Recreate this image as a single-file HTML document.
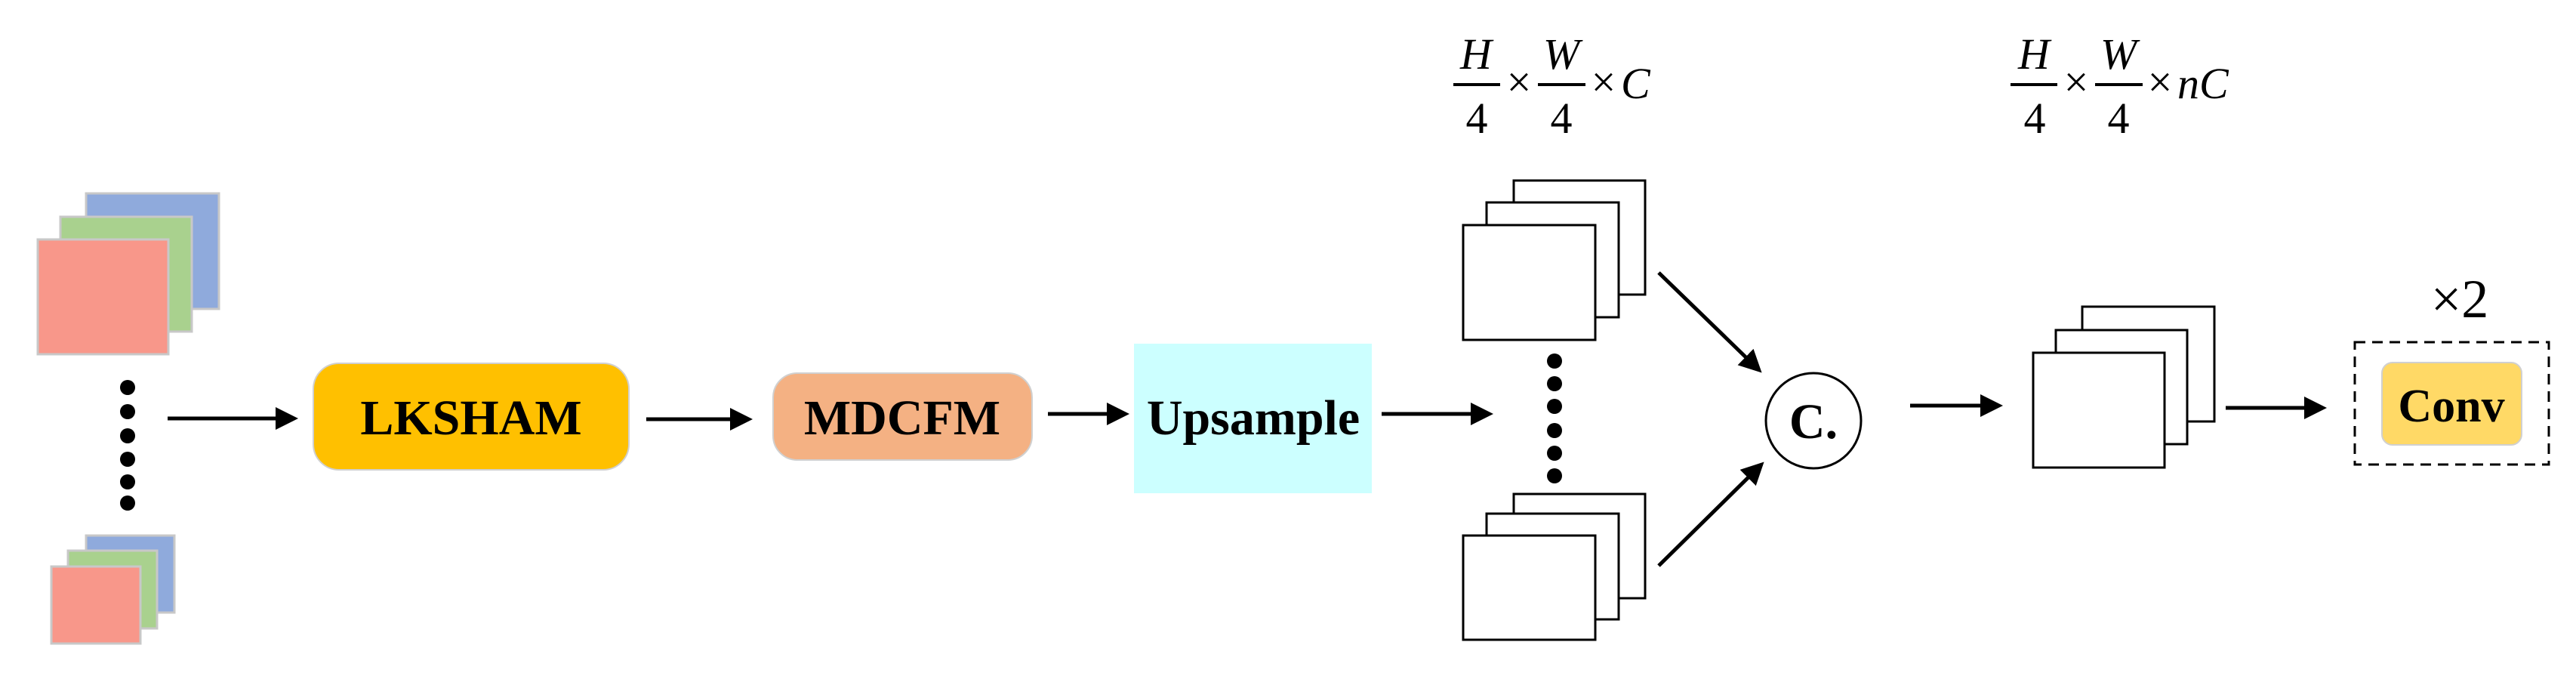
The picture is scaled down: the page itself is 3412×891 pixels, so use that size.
<!DOCTYPE html>
<html><head><meta charset="utf-8"><style>html,body{margin:0;padding:0;background:#fff}svg{display:block}</style></head>
<body>
<svg width="3412" height="891" viewBox="0 0 3412 891" xmlns="http://www.w3.org/2000/svg" font-family="Liberation Serif, serif">
<defs>
<marker id="ah" markerWidth="6" markerHeight="6" refX="5" refY="3" orient="auto" markerUnits="strokeWidth">
<path d="M0,0 L6,3 L0,6 z" fill="#000"/></marker>
</defs>
<!-- top color stack -->
<rect x="114" y="256" width="176" height="153" fill="#8FAADC" stroke="#c8c8c8" stroke-width="3"/>
<rect x="80" y="287" width="174" height="152" fill="#A9D18E" stroke="#c8c8c8" stroke-width="3"/>
<rect x="50" y="317" width="173" height="152" fill="#F8978A" stroke="#c8c8c8" stroke-width="3"/>
<!-- dots -->
<g fill="#000">
<ellipse cx="169" cy="513" rx="10" ry="10"/><ellipse cx="169" cy="545" rx="10" ry="10"/><ellipse cx="169" cy="577" rx="10" ry="10"/>
<ellipse cx="169" cy="608" rx="10" ry="10"/><ellipse cx="169" cy="638" rx="10" ry="10"/><ellipse cx="169" cy="666" rx="10" ry="10"/>
</g>
<!-- bottom color stack -->
<rect x="114" y="709" width="117" height="102" fill="#8FAADC" stroke="#c8c8c8" stroke-width="3"/>
<rect x="90" y="729" width="118" height="103" fill="#A9D18E" stroke="#c8c8c8" stroke-width="3"/>
<rect x="68" y="750" width="118" height="102" fill="#F8978A" stroke="#c8c8c8" stroke-width="3"/>
<!-- arrows -->
<g stroke="#000" stroke-width="5" fill="none" marker-end="url(#ah)">
<line x1="222" y1="554" x2="390" y2="554"/>
<line x1="856" y1="555" x2="992" y2="555"/>
<line x1="1388" y1="548" x2="1491" y2="548"/>
<line x1="1830" y1="548" x2="1973" y2="548"/>
<line x1="2197" y1="361" x2="2330" y2="490"/>
<line x1="2197" y1="749" x2="2333" y2="615"/>
<line x1="2530" y1="537" x2="2648" y2="537"/>
<line x1="2948" y1="540" x2="3077" y2="540"/>
</g>
<!-- LKSHAM -->
<rect x="415" y="481" width="418" height="141" rx="34" fill="#FFC000" stroke="#d0d0d0" stroke-width="2"/>
<text x="624" y="575" text-anchor="middle" font-size="66" font-weight="bold">LKSHAM</text>
<!-- MDCFM -->
<rect x="1024" y="494" width="343" height="115" rx="32" fill="#F4B183" stroke="#d0d0d0" stroke-width="2"/>
<text x="1195" y="575" text-anchor="middle" font-size="66" font-weight="bold">MDCFM</text>
<!-- Upsample -->
<rect x="1502" y="455" width="315" height="198" fill="#CCFFFF"/>
<text x="1660" y="575" text-anchor="middle" font-size="66" font-weight="bold">Upsample</text>
<!-- white stacks -->
<g fill="#fff" stroke="#000" stroke-width="3">
<rect x="2005" y="239" width="174" height="151"/><rect x="1969" y="268" width="175" height="152"/><rect x="1938" y="298" width="175" height="152"/>
<rect x="2005" y="654" width="174" height="138"/><rect x="1969" y="680" width="175" height="140"/><rect x="1938" y="709" width="175" height="138"/>
<rect x="2758" y="406" width="175" height="152"/><rect x="2723" y="437" width="174" height="151"/><rect x="2693" y="467" width="174" height="152"/>
</g>
<g fill="#000">
<circle cx="2059" cy="478" r="10"/><circle cx="2059" cy="508" r="10"/><circle cx="2059" cy="538" r="10"/>
<circle cx="2059" cy="570" r="10"/><circle cx="2059" cy="600" r="10"/><circle cx="2059" cy="630" r="10"/>
</g>
<!-- concat circle -->
<circle cx="2402" cy="557" r="63" fill="#fff" stroke="#000" stroke-width="3"/>
<text x="2402" y="580" text-anchor="middle" font-size="66" font-weight="bold">C.</text>
<!-- conv -->
<rect x="3119" y="453" width="257" height="162" fill="none" stroke="#000" stroke-width="3" stroke-dasharray="14,9"/>
<rect x="3155" y="480" width="185" height="109" rx="14" fill="#FFD966" stroke="#d0d0d0" stroke-width="2"/>
<text x="3247" y="558" text-anchor="middle" font-size="62" font-weight="bold">Conv</text>
<text x="3258" y="420" text-anchor="middle" font-size="72">×2</text>
<!-- formulas -->
<g font-size="58">
<text x="1955" y="91" text-anchor="middle" font-style="italic">H</text>
<line x1="1925" y1="112" x2="1987" y2="112" stroke="#000" stroke-width="4"/>
<text x="1956" y="176" text-anchor="middle">4</text>
<text x="2012" y="128" text-anchor="middle">×</text>
<text x="2068" y="91" text-anchor="middle" font-style="italic">W</text>
<line x1="2037" y1="112" x2="2100" y2="112" stroke="#000" stroke-width="4"/>
<text x="2068" y="176" text-anchor="middle">4</text>
<text x="2124" y="128" text-anchor="middle">×</text>
<text x="2147" y="130" font-style="italic">C</text>

<text x="2694" y="91" text-anchor="middle" font-style="italic">H</text>
<line x1="2663" y1="112" x2="2725" y2="112" stroke="#000" stroke-width="4"/>
<text x="2695" y="176" text-anchor="middle">4</text>
<text x="2750" y="128" text-anchor="middle">×</text>
<text x="2806" y="91" text-anchor="middle" font-style="italic">W</text>
<line x1="2775" y1="112" x2="2838" y2="112" stroke="#000" stroke-width="4"/>
<text x="2806" y="176" text-anchor="middle">4</text>
<text x="2861" y="128" text-anchor="middle">×</text>
<text x="2884" y="130" font-style="italic">nC</text>
</g>
</svg>
</body></html>
